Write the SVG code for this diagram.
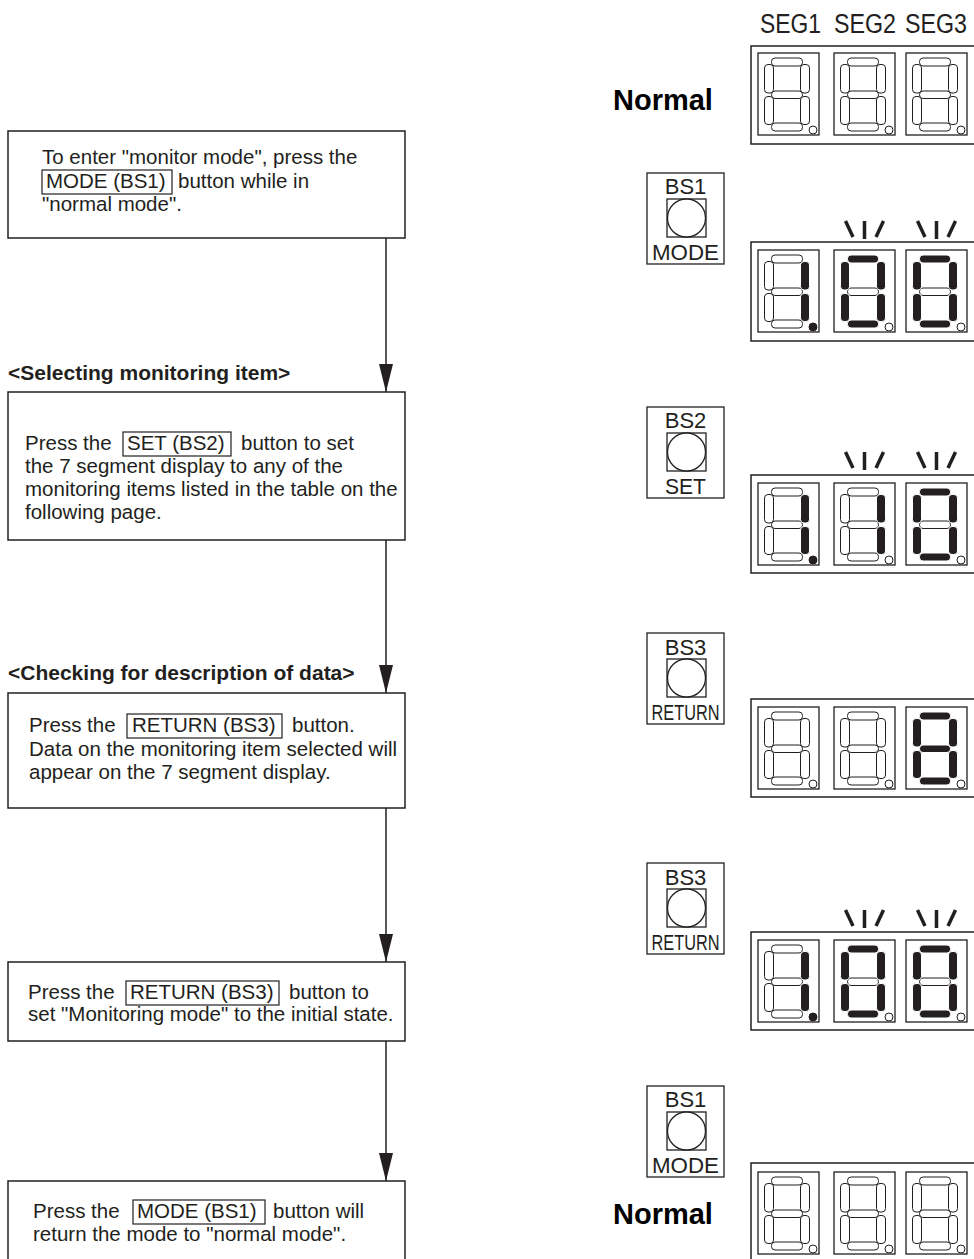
<svg xmlns="http://www.w3.org/2000/svg" xmlns:xlink="http://www.w3.org/1999/xlink" width="974" height="1259" viewBox="0 0 974 1259">
<defs>
<style>
.box{fill:none;stroke:#231f20;stroke-width:1.5}
.ib{fill:none;stroke:#231f20;stroke-width:1.2}
.t{font-family:"Liberation Sans",Arial,sans-serif;font-size:20.5px;fill:#231f20}
.h{font-family:"Liberation Sans",Arial,sans-serif;font-size:21px;font-weight:bold;fill:#231f20}
.conn{stroke:#231f20;stroke-width:1.5;fill:none}
.bt{font-family:"Liberation Sans",Arial,sans-serif;font-size:22px;fill:#231f20;text-anchor:middle}
.off{fill:#fff;stroke:#231f20;stroke-width:1}
.on{fill:#231f20;stroke:#fff;stroke-width:1}
.cell{fill:#fff;stroke:#231f20;stroke-width:1.3}
.outer{fill:#fff;stroke:#231f20;stroke-width:1.5}
.blink line{stroke:#231f20;stroke-width:3.5}
.norm{font-family:"Liberation Sans",Arial,sans-serif;font-size:29px;font-weight:bold;fill:#000}
.seg{font-family:"Liberation Sans",Arial,sans-serif;font-size:27px;fill:#231f20}
.btnf{fill:#fff;stroke:#231f20;stroke-width:1.3}
.dpon{fill:#231f20;stroke:#231f20;stroke-width:1}
</style>
<marker id="arr" markerUnits="userSpaceOnUse" markerWidth="28" markerHeight="14" refX="28" refY="7" orient="auto">
<path d="M0,0 L28,7 L0,14 z" fill="#231f20"/>
</marker>
<rect id="sa" x="13.5" y="5" width="31" height="8" rx="3.5"/>
<rect id="sb" x="42.5" y="11.5" width="9" height="28.5" rx="3.5"/>
<rect id="sc" x="42.5" y="43.5" width="9" height="28" rx="3.5"/>
<rect id="sd" x="13.5" y="70" width="31" height="8" rx="3.5"/>
<rect id="se" x="6.5" y="43.5" width="9" height="28" rx="3.5"/>
<rect id="sf" x="6.5" y="11.5" width="9" height="28.5" rx="3.5"/>
<rect id="sg" x="13.5" y="38" width="31" height="7.5" rx="3.5"/>
<circle id="sp" cx="55" cy="77" r="4"/>
<rect id="cellr" x="0" y="0" width="61" height="82"/>
<g id="d8off">
<use xlink:href="#cellr" class="cell"/>
<use xlink:href="#sa" class="off"/><use xlink:href="#sb" class="off"/><use xlink:href="#sc" class="off"/><use xlink:href="#sd" class="off"/><use xlink:href="#se" class="off"/><use xlink:href="#sf" class="off"/><use xlink:href="#sg" class="off"/><use xlink:href="#sp" class="off"/>
</g>
<g id="d1dp">
<use xlink:href="#cellr" class="cell"/>
<use xlink:href="#sa" class="off"/><use xlink:href="#sd" class="off"/><use xlink:href="#se" class="off"/><use xlink:href="#sf" class="off"/><use xlink:href="#sg" class="off"/><use xlink:href="#sb" class="on"/><use xlink:href="#sc" class="on"/><use xlink:href="#sp" class="dpon"/>
</g>
<g id="d1">
<use xlink:href="#cellr" class="cell"/>
<use xlink:href="#sa" class="off"/><use xlink:href="#sd" class="off"/><use xlink:href="#se" class="off"/><use xlink:href="#sf" class="off"/><use xlink:href="#sg" class="off"/><use xlink:href="#sb" class="on"/><use xlink:href="#sc" class="on"/><use xlink:href="#sp" class="off"/>
</g>
<g id="d0">
<use xlink:href="#cellr" class="cell"/>
<use xlink:href="#sg" class="off"/><use xlink:href="#sa" class="on"/><use xlink:href="#sb" class="on"/><use xlink:href="#sc" class="on"/><use xlink:href="#sd" class="on"/><use xlink:href="#se" class="on"/><use xlink:href="#sf" class="on"/><use xlink:href="#sp" class="off"/>
</g>
<g id="d8on">
<use xlink:href="#cellr" class="cell"/>
<use xlink:href="#sa" class="on"/><use xlink:href="#sb" class="on"/><use xlink:href="#sc" class="on"/><use xlink:href="#sd" class="on"/><use xlink:href="#se" class="on"/><use xlink:href="#sf" class="on"/><use xlink:href="#sg" class="on"/><use xlink:href="#sp" class="off"/>
</g>
<g id="blink" class="blink">
<line x1="-19" y1="0" x2="-11.5" y2="16"/><line x1="0" y1="0" x2="0" y2="18"/><line x1="19" y1="0" x2="11.5" y2="16"/>
</g>
<g id="btn">
<rect x="0" y="0" width="77" height="91" class="btnf"/>
<rect x="20" y="26" width="39" height="38" class="btnf"/>
<circle cx="39.5" cy="45" r="19" class="btnf"/>
</g>
</defs>
<rect x="0" y="0" width="974" height="1259" fill="#fff"/>

<g id="step1">
<rect class="box" x="8" y="131" width="397" height="107"/>
<text class="t" x="42" y="164">To enter "monitor mode", press the</text>
<rect class="ib" x="42" y="170" width="130" height="24"/>
<text class="t" x="46" y="188">MODE (BS1)</text>
<text class="t" x="178" y="188">button while in</text>
<text class="t" x="42" y="211">"normal mode".</text>
</g>
<g id="step2">
<text class="h" x="8" y="380">&lt;Selecting monitoring item&gt;</text>
<rect class="box" x="8" y="392" width="397" height="148"/>
<text class="t" x="25" y="450">Press the</text>
<rect class="ib" x="123" y="432" width="108" height="24"/>
<text class="t" x="127" y="450">SET (BS2)</text>
<text class="t" x="241" y="450">button to set</text>
<text class="t" x="25" y="473">the 7 segment display to any of the</text>
<text class="t" x="25" y="496">monitoring items listed in the table on the</text>
<text class="t" x="25" y="519">following page.</text>
</g>
<g id="step3">
<text class="h" x="8" y="680">&lt;Checking for description of data&gt;</text>
<rect class="box" x="8" y="693" width="397" height="115"/>
<text class="t" x="29" y="732">Press the</text>
<rect class="ib" x="127" y="714" width="155" height="24"/>
<text class="t" x="132" y="732">RETURN (BS3)</text>
<text class="t" x="292" y="732">button.</text>
<text class="t" x="29" y="756">Data on the monitoring item selected will</text>
<text class="t" x="29" y="779">appear on the 7 segment display.</text>
</g>
<g id="step4">
<rect class="box" x="8" y="962" width="397" height="79"/>
<text class="t" x="28" y="999">Press the</text>
<rect class="ib" x="126" y="981" width="153" height="24"/>
<text class="t" x="130" y="999">RETURN (BS3)</text>
<text class="t" x="289" y="999">button to</text>
<text class="t" x="28" y="1021">set "Monitoring mode" to the initial state.</text>
</g>
<g id="step5">
<rect class="box" x="8" y="1181" width="397" height="90"/>
<text class="t" x="33" y="1218">Press the</text>
<rect class="ib" x="133" y="1200" width="132" height="24"/>
<text class="t" x="137" y="1218">MODE (BS1)</text>
<text class="t" x="273" y="1218">button will</text>
<text class="t" x="33" y="1241">return the mode to "normal mode".</text>
</g>

<g id="connectors">
<line class="conn" x1="386" y1="238" x2="386" y2="392" marker-end="url(#arr)"/>
<line class="conn" x1="386" y1="540" x2="386" y2="693" marker-end="url(#arr)"/>
<line class="conn" x1="386" y1="808" x2="386" y2="962" marker-end="url(#arr)"/>
<line class="conn" x1="386" y1="1041" x2="386" y2="1181" marker-end="url(#arr)"/>
</g>

<g id="seglabels">
<text class="seg" x="760" y="33" textLength="61" lengthAdjust="spacingAndGlyphs">SEG1</text>
<text class="seg" x="834" y="33" textLength="62" lengthAdjust="spacingAndGlyphs">SEG2</text>
<text class="seg" x="905" y="33" textLength="62" lengthAdjust="spacingAndGlyphs">SEG3</text>
</g>

<g id="disp1">
<text class="norm" x="613" y="110">Normal</text>
<g transform="translate(0,46)">
<rect class="outer" x="751" y="0" width="260" height="98"/>
<use xlink:href="#d8off" x="758" y="7"/>
<use xlink:href="#d8off" x="834" y="7"/>
<use xlink:href="#d8off" x="906" y="7"/>
</g>
</g>

<g id="btn1">
<use xlink:href="#btn" x="647" y="173"/>
<text class="bt" x="685.5" y="194">BS1</text>
<text class="bt" x="685.5" y="260" textLength="67" lengthAdjust="spacingAndGlyphs">MODE</text>
</g>
<g id="disp2">
<use xlink:href="#blink" x="864.5" y="221"/>
<use xlink:href="#blink" x="936.5" y="221"/>
<g transform="translate(0,242)">
<rect class="outer" x="751" y="0" width="260" height="99"/>
<use xlink:href="#d1dp" x="758" y="8"/>
<use xlink:href="#d0" x="834" y="8"/>
<use xlink:href="#d0" x="906" y="8"/>
</g>
</g>

<g id="btn2">
<use xlink:href="#btn" x="647" y="407"/>
<text class="bt" x="685.5" y="428">BS2</text>
<text class="bt" x="685.5" y="494" textLength="41" lengthAdjust="spacingAndGlyphs">SET</text>
</g>
<g id="disp3">
<use xlink:href="#blink" x="864.5" y="452"/>
<use xlink:href="#blink" x="936.5" y="452"/>
<g transform="translate(0,475)">
<rect class="outer" x="751" y="0" width="260" height="98"/>
<use xlink:href="#d1dp" x="758" y="8"/>
<use xlink:href="#d1" x="834" y="8"/>
<use xlink:href="#d0" x="906" y="8"/>
</g>
</g>

<g id="btn3">
<use xlink:href="#btn" x="647" y="633"/>
<text class="bt" x="685.5" y="655">BS3</text>
<text class="bt" x="685.5" y="720" textLength="68" lengthAdjust="spacingAndGlyphs">RETURN</text>
</g>
<g id="disp4">
<g transform="translate(0,699)">
<rect class="outer" x="751" y="0" width="260" height="98"/>
<use xlink:href="#d8off" x="758" y="8"/>
<use xlink:href="#d8off" x="834" y="8"/>
<use xlink:href="#d8on" x="906" y="8"/>
</g>
</g>

<g id="btn4">
<use xlink:href="#btn" x="647" y="863"/>
<text class="bt" x="685.5" y="885">BS3</text>
<text class="bt" x="685.5" y="950" textLength="68" lengthAdjust="spacingAndGlyphs">RETURN</text>
</g>
<g id="disp5">
<use xlink:href="#blink" x="864.5" y="910"/>
<use xlink:href="#blink" x="936.5" y="910"/>
<g transform="translate(0,932)">
<rect class="outer" x="751" y="0" width="260" height="98"/>
<use xlink:href="#d1dp" x="758" y="8"/>
<use xlink:href="#d0" x="834" y="8"/>
<use xlink:href="#d0" x="906" y="8"/>
</g>
</g>

<g id="btn5">
<use xlink:href="#btn" x="647" y="1086"/>
<text class="bt" x="685.5" y="1107">BS1</text>
<text class="bt" x="685.5" y="1173" textLength="67" lengthAdjust="spacingAndGlyphs">MODE</text>
</g>
<g id="disp6">
<text class="norm" x="613" y="1224">Normal</text>
<g transform="translate(0,1163)">
<rect class="outer" x="751" y="0" width="260" height="98"/>
<use xlink:href="#d8off" x="758" y="9"/>
<use xlink:href="#d8off" x="834" y="9"/>
<use xlink:href="#d8off" x="906" y="9"/>
</g>
</g>
</svg>
